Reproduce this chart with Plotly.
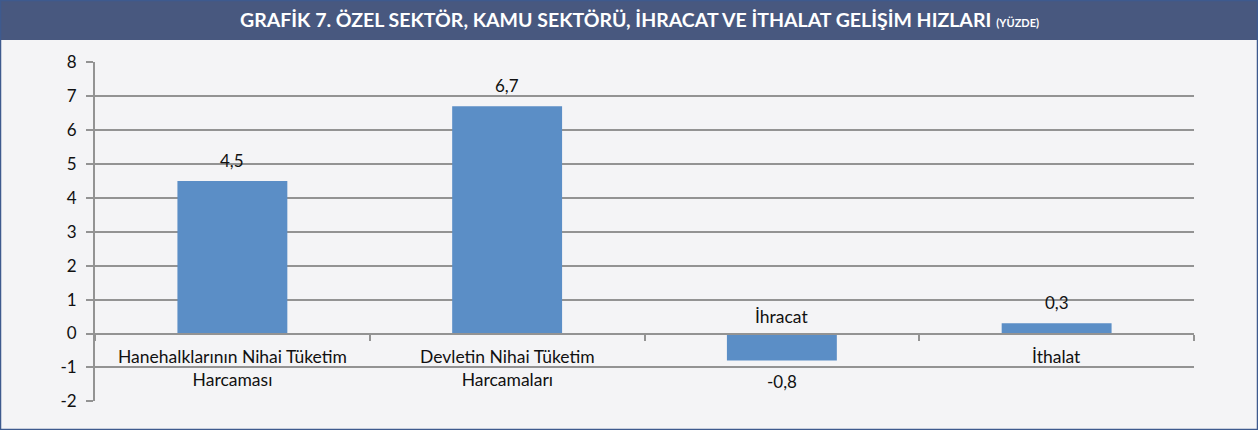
import plotly.graph_objects as go

categories = ["Hanehalklarının Nihai Tüketim<br>Harcaması",
              "Devletin Nihai Tüketim<br>Harcamaları",
              "İhracat",
              "İthalat"]
values = [4.5, 6.7, -0.8, 0.3]
value_labels = ["4,5", "6,7", "-0,8", "0,3"]
y_ticks = [-2, -1, 0, 1, 2, 3, 4, 5, 6, 7, 8]
y_tick_labels = ["-2", "-1", "0", "1", "2", "3", "4", "5", "6", "7", "8"]

TITLE = "GRAFİK 7. ÖZEL SEKTÖR, KAMU SEKTÖRÜ, İHRACAT VE İTHALAT GELİŞİM HIZLARI"
SUB = "(YÜZDE)"

W, H = 1258, 430
BG = "#F4F4F6"
BAR = "#5B8EC6"
GRID = "#939393"
FONT = "Lato, 'Open Sans', sans-serif"

x_dom = [95 / W, 1194 / W]
y_dom = [1 - 401.3 / H, 1 - 62.3 / H]
ymin, ymax = -2, 8
zero_pos = y_dom[0] + (0 - ymin) / (ymax - ymin) * (y_dom[1] - y_dom[0])

fig = go.Figure()
fig.add_trace(go.Bar(
    x=categories, y=values, width=0.4,
    marker=dict(color=BAR, line=dict(width=0)),
    hoverinfo="skip",
))

annotations = []
for c, v, t in zip(categories, values, value_labels):
    annotations.append(dict(
        x=c, y=v, xref="x", yref="y", text=t, showarrow=False,
        yanchor="bottom" if v >= 0 else "top",
        yshift=8 if v >= 0 else -8,
        font=dict(family=FONT, size=17, color="#111111"),
    ))
    annotations.append(dict(
        x=c, y=0, xref="x", yref="y", text=c, showarrow=False,
        yanchor="top" if v >= 0 else "bottom",
        yshift=-11 if v >= 0 else 4,
        font=dict(family=FONT, size=17.5, color="#111111"),
    ))

annotations.append(dict(
    x=0.508, y=1 - 20 / H, xref="paper", yref="paper", showarrow=False,
    xanchor="center", yanchor="middle",
    text="<b>" + TITLE + "</b> <b><span style='font-size:11px'>" + SUB + "</span></b>",
    font=dict(family=FONT, size=19.5, color="#FFFFFF"),
))

shapes = [
    dict(type="rect", xref="paper", yref="paper", x0=0, x1=1, y0=1 - 40 / H, y1=1,
         fillcolor="#48587F", line=dict(width=0), layer="below"),
    dict(type="rect", xref="paper", yref="paper", x0=0, x1=1, y0=0, y1=1,
         fillcolor="rgba(0,0,0,0)", line=dict(color="#3E5A8E", width=2.5)),
]

fig.update_layout(
    template="none",
    width=W, height=H, autosize=False,
    margin=dict(l=0, r=0, t=0, b=0, pad=0, autoexpand=False),
    paper_bgcolor=BG, plot_bgcolor=BG,
    showlegend=False,
    annotations=annotations,
    shapes=shapes,
    xaxis=dict(
        domain=x_dom, anchor="free", position=zero_pos, automargin=False,
        type="category", showticklabels=False,
        showline=True, linecolor=GRID, linewidth=2,
        ticks="outside", tickson="boundaries", ticklen=6, tickcolor=GRID, tickwidth=1.5,
        showgrid=False, zeroline=False, fixedrange=True,
    ),
    yaxis=dict(
        domain=y_dom, range=[ymin, ymax], tickvals=y_ticks, ticktext=y_tick_labels,
        automargin=False,
        showline=True, linecolor=GRID, linewidth=2,
        ticks="outside", ticklen=7, tickcolor=GRID, tickwidth=1.5,
        showgrid=True, gridcolor=GRID, gridwidth=1.6,
        zeroline=False, ticklabelstandoff=6,
        tickfont=dict(family=FONT, size=17, color="#111111"),
        fixedrange=True,
    ),
    bargap=0.6,
)

post = ("document.body.style.margin='0px';document.body.style.padding='0px';"
        "document.documentElement.style.overflow='hidden';")
fig.write_html("out.html", config={"displayModeBar": False}, post_script=post)
